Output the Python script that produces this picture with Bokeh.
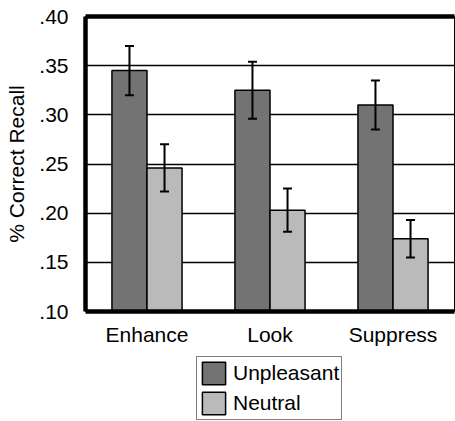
from bokeh.plotting import figure
from bokeh.layouts import column
from bokeh.models import (FactorRange, Range1d, ColumnDataSource, Whisker, Legend, LegendItem,
                          CategoricalAxis, FixedTicker, CustomJSTickFormatter, TeeHead)
from bokeh.transform import dodge
from bokeh.embed import file_html
from bokeh.resources import INLINE

categories = ["Enhance", "Look", "Suppress"]
series_names = ["Unpleasant", "Neutral"]
unpleasant = [0.345, 0.325, 0.310]
unpleasant_err = [0.025, 0.029, 0.025]
neutral = [0.246, 0.203, 0.174]
neutral_err = [0.024, 0.022, 0.019]
y_ticks = [0.10, 0.15, 0.20, 0.25, 0.30, 0.35, 0.40]

FONT = "Liberation Sans"
FS = "21px"
DARK = "#737373"
LIGHT = "#bababa"

src = ColumnDataSource(dict(
    cat=categories,
    unp=unpleasant,
    unp_lo=[v - e for v, e in zip(unpleasant, unpleasant_err)],
    unp_hi=[v + e for v, e in zip(unpleasant, unpleasant_err)],
    neu=neutral,
    neu_lo=[v - e for v, e in zip(neutral, neutral_err)],
    neu_hi=[v + e for v, e in zip(neutral, neutral_err)],
))

xr = FactorRange(*categories, range_padding=0)
p = figure(width=455, height=350, x_range=xr,
           y_range=Range1d(0.10, 0.40), output_backend="svg", toolbar_location=None,
           min_border_left=85, min_border_right=1, min_border_top=16, min_border_bottom=39)

p.outline_line_color = "black"
p.outline_line_width = 1
p.xgrid.grid_line_color = None
p.ygrid.ticker = FixedTicker(ticks=y_ticks)
p.ygrid.grid_line_color = "black"
p.ygrid.grid_line_width = 1.5

off = 0.1425
w = 0.285
p.vbar(x=dodge("cat", -off, range=xr), top="unp", bottom=0.10, width=w, source=src,
       fill_color=DARK, line_color="black", line_width=1.5)
p.vbar(x=dodge("cat", off, range=xr), top="neu", bottom=0.10, width=w, source=src,
       fill_color=LIGHT, line_color="black", line_width=1.5)

for col, sign in (("unp", -1), ("neu", 1)):
    wk = Whisker(base=dodge("cat", sign * off, range=xr), lower=col + "_lo", upper=col + "_hi",
                 source=src, line_color="black", line_width=2, level="overlay",
                 upper_head=TeeHead(size=9, line_width=2, line_color="black"),
                 lower_head=TeeHead(size=9, line_width=2, line_color="black"))
    p.add_layout(wk)

# y axis
ya = p.yaxis[0]
ya.ticker = FixedTicker(ticks=y_ticks)
ya.formatter = CustomJSTickFormatter(code="return tick.toFixed(2).replace(/^0/, '');")
ya.axis_line_width = 4.5
ya.major_tick_line_color = None
ya.minor_tick_line_color = None
ya.major_label_text_font = FONT
ya.major_label_text_font_size = FS
ya.major_label_text_color = "black"
ya.major_label_standoff = 11
ya.axis_label = "% Correct Recall"
ya.axis_label_text_font = FONT
ya.axis_label_text_font_size = FS
ya.axis_label_text_font_style = "normal"
ya.axis_label_text_color = "black"
ya.axis_label_standoff = 8

# x axis
xa = p.xaxis[0]
xa.axis_line_width = 4.5
xa.major_tick_line_color = None
xa.major_label_text_font = FONT
xa.major_label_text_font_size = FS
xa.major_label_text_color = "black"
xa.major_label_standoff = 5

# top thick border
top = CategoricalAxis(axis_line_width=4.5, major_tick_line_color=None,
                      major_label_text_font_size="0px", major_label_standoff=0,
                      major_tick_out=0, major_tick_in=0)
p.add_layout(top, "above")

# legend panel: series renderers on a numeric x range, so no bar is drawn, only the key
p2 = figure(width=455, height=71, x_range=Range1d(0, 1), y_range=Range1d(0, 1),
            output_backend="svg", toolbar_location=None, min_border=0,
            x_axis_location=None, y_axis_location=None)
p2.outline_line_color = None
p2.grid.grid_line_color = None
g1 = p2.vbar(x="cat", top="unp", bottom=0.10, width=w, source=src,
             fill_color=DARK, line_color="black", line_width=1.5)
g2 = p2.vbar(x="cat", top="neu", bottom=0.10, width=w, source=src,
             fill_color=LIGHT, line_color="black", line_width=1.5)
legend = Legend(items=[LegendItem(label=series_names[0], renderers=[g1]),
                       LegendItem(label=series_names[1], renderers=[g2])],
                location=(111, 1), orientation="vertical",
                border_line_color="black", border_line_width=1.5,
                glyph_width=29, glyph_height=28, label_height=22,
                label_text_font=FONT, label_text_font_size=FS, label_text_color="black",
                label_standoff=5, spacing=2, padding=2, margin=0)
p2.add_layout(legend)

open("out.html", "w").write(file_html(column(p, p2, spacing=0), INLINE))
